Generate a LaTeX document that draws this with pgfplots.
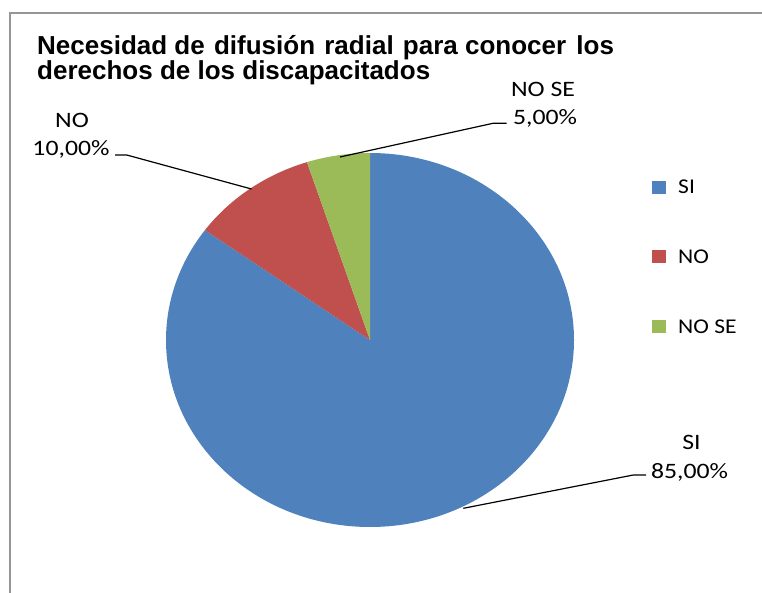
\documentclass[border=0pt]{standalone}
\usepackage{pgfplots}
\pgfplotsset{compat=1.18}
\usepackage{pgfplotstable}
\usepackage{fontspec}
\usepackage{graphicx}
\setmainfont{Carlito}
\newfontfamily\titlefont{Liberation Sans}

\definecolor{siblue}{HTML}{4F81BD}
\definecolor{nored}{HTML}{C0504D}
\definecolor{nosegreen}{HTML}{9BBB59}
\definecolor{framegray}{RGB}{150,150,150}

\pgfplotstableread{
label value
SI 85
NO 10
NOSE 5
}\piedata

\newcommand\lblfont{\fontsize{21}{25}\selectfont}
\newcommand\datfont{\fontsize{22}{26}\selectfont}
\newcommand\sx[1]{\scalebox{1.12}[1]{#1}}
\newcommand\dx[1]{\scalebox{1.17}[1]{#1}}

\begin{document}
\begin{tikzpicture}
\pgfplotstablegetelem{0}{value}\of\piedata \edef\vA{\pgfplotsretval}
\pgfplotstablegetelem{1}{value}\of\piedata \edef\vB{\pgfplotsretval}
\pgfplotstablegetelem{2}{value}\of\piedata \edef\vC{\pgfplotsretval}
\pgfmathsetmacro\aZero{90}
\pgfmathsetmacro\aOne{90-3.6*\vA}
\pgfmathsetmacro\aTwo{\aOne-3.6*\vB}
\pgfmathsetmacro\aThree{\aTwo-3.6*\vC}
\begin{axis}[
  at={(0,0)}, anchor=south west, scale only axis,
  width=762pt, height=592pt,
  xmin=0, xmax=762, ymin=0, ymax=592,
  hide axis, clip=false,
  legend style={at={(axis cs:652,412)}, anchor=north west, draw=none, fill=none,
    inner sep=0pt, row sep=56pt, font=\lblfont,
    nodes={inner sep=0pt, text depth=0pt}},
  legend cell align=left,
  legend image code/.code={\fill[#1] (0pt,-6.5pt) rectangle (14pt,6.5pt);},
]
\addlegendimage{fill=siblue, draw=none}
\addlegendentry{\hspace{12pt}\sx{SI}}
\addlegendimage{fill=nored, draw=none}
\addlegendentry{\hspace{12pt}\sx{NO}}
\addlegendimage{fill=nosegreen, draw=none}
\addlegendentry{\hspace{12pt}\sx{NO SE}}

% pie slices
\fill[siblue] (axis cs:370,252) -- ++(\aZero:204pt and 187pt)
   arc[start angle=\aZero, end angle=\aOne, x radius=204pt, y radius=187pt] -- cycle;
\fill[nored] (axis cs:370,252) -- ++(\aOne:204pt and 187pt)
   arc[start angle=\aOne, end angle=\aTwo, x radius=204pt, y radius=187pt] -- cycle;
\fill[nosegreen] (axis cs:370,252) -- ++(\aTwo:204pt and 187pt)
   arc[start angle=\aTwo, end angle=\aThree, x radius=204pt, y radius=187pt] -- cycle;

% leader lines
\draw[line width=1.2pt] (axis cs:251.5,403) -- (axis cs:126.7,437) -- (axis cs:115,437);
\draw[line width=1.2pt] (axis cs:340,435) -- (axis cs:493,468.7) -- (axis cs:506.7,468.7);
\draw[line width=1.2pt] (axis cs:463.3,83.7) -- (axis cs:633.3,117) -- (axis cs:646,117);

% data labels
\node[anchor=base, font=\datfont, inner sep=0pt] at (axis cs:72,464.7) {\dx{NO}};
\node[anchor=base, font=\datfont, inner sep=0pt] at (axis cs:71,436.3) {\dx{10,00\%}};
\node[anchor=base, font=\datfont, inner sep=0pt] at (axis cs:543,495.3) {\dx{NO SE}};
\node[anchor=base, font=\datfont, inner sep=0pt] at (axis cs:545,467.7) {\dx{5,00\%}};
\node[anchor=base, font=\datfont, inner sep=0pt] at (axis cs:691.5,143) {\dx{SI}};
\node[anchor=base, font=\datfont, inner sep=0pt] at (axis cs:689.5,114) {\dx{85,00\%}};

% title
\node[anchor=base west, inner sep=0pt, font=\titlefont\bfseries\fontsize{26}{28}\selectfont] at (axis cs:37,537) {Necesidad de\hspace{2pt} difusión\hspace{2pt} radial\hspace{2pt} para conocer\hspace{3pt} los};
\node[anchor=base west, inner sep=0pt, font=\titlefont\bfseries\fontsize{26}{28}\selectfont] at (axis cs:37,512) {derechos de los discapacitados};

% chart frame
\draw[framegray, line width=1.5pt] (axis cs:10,-10) -- (axis cs:10,579) -- (axis cs:780,579);
\end{axis}
\pgfresetboundingbox
\useasboundingbox (0,0) rectangle (762pt,592pt);
\end{tikzpicture}
\end{document}
